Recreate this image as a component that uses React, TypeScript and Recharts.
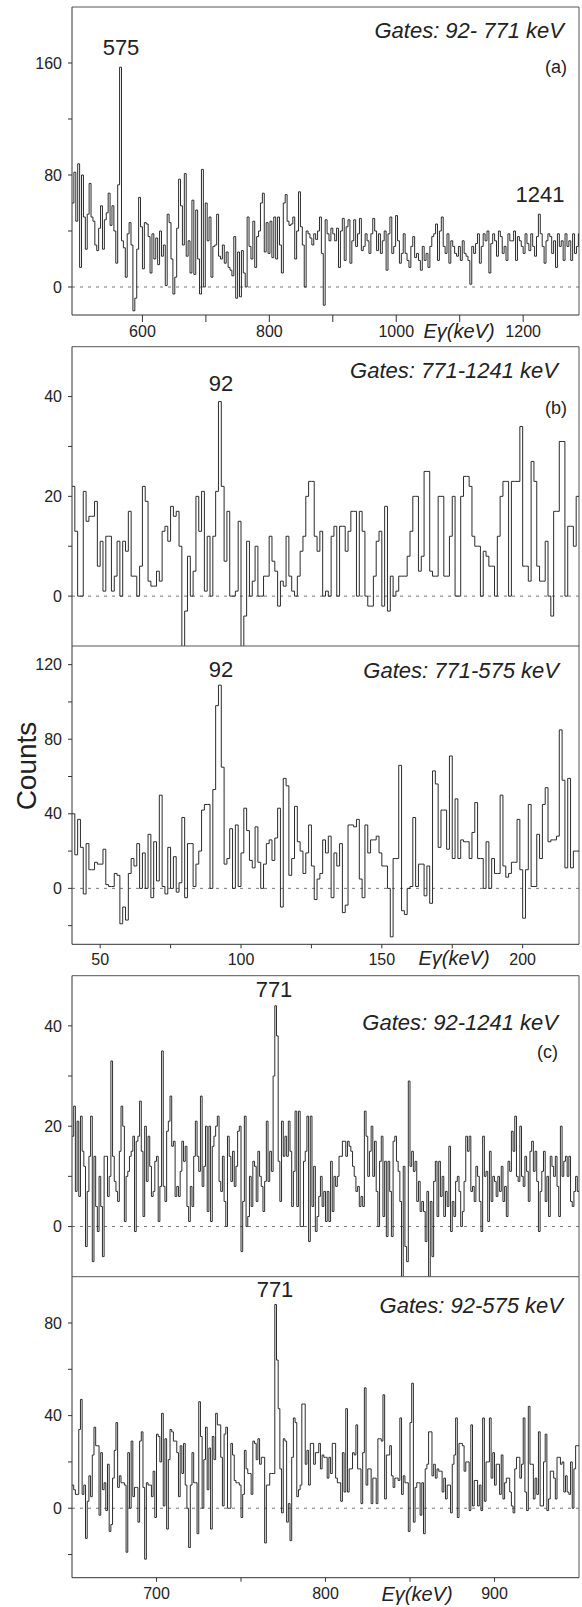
import React from "react";
import { LineChart, Line, XAxis, YAxis, ReferenceLine } from "recharts";

const FONT = "'Liberation Sans', Arial, Helvetica, sans-serif";
const INK = "#2b2b2b";
const AXIS = "#333";
const BORDER = "#555";
const TEXT = "#222";

// (a) Gates: 92-771 keV — 3 keV bins from 489 keV
const aStart = 489;
const aBin = 3;
const aCounts = [
  60, 82, 47, 88, 14, 80, 50, 27, 52, 74, 50, 47, 30, 26, 42, 58, 27, 48, 53, 67,
  44, 58, 40, 17, 73, 157, 33, 28, 7, 38, 46, 30, -17, -8, 27, 64, 43, 13, 46, 45,
  36, 10, 38, 20, 35, 16, 40, 22, 30, 1, 52, 46, 20, -5, 7, 42, 77, 58, 30, 81,
  22, 33, 10, 62, 9, 55, 20, -5, 84, 0, 60, 33, 50, 7, 29, 30, 52, 22, 20, 30,
  17, 25, 14, 12, 8, 36, -8, 25, -7, 26, 10, 0, 50, 29, 20, 47, 14, 36, 40, 60,
  67, 25, 46, 24, 47, 21, 50, 20, 50, 30, 10, 60, 66, 47, 44,
  45, 50, 20, 40, 68, 43, 30, 0, 40, 38, 35, 30, 38, 34, 40,
  50, 24, -13, 48, 38, 33, 42, 38, 33, 42, 14, 40, 49, 19, 43,
  48, 17, 33, 48, 29, 38, 49, 26, 29, 38, 33, 24, 38, 49, 40,
  26, 38, 24, 33, 40, 12, 38, 50, 24, 29, 51, 33, 17, 24, 38,
  24, 19, 14, 29, 36, 21, 24, 19, 12, 29, 19, 24, 14, 29, 36,
  38, 45, 19, 40, 50, 29, 24, 38, 17, 33, 29, 24, 22, 29, 19,
  33, 24, 22, 19, 2, 29, 24, 31, 38, 17, 29, 38, 33, 40, 10,
  31, 38, 33, 22, 40, 36, 24, 29, 19, 38, 33, 33, 40, 19, 36,
  33, 29, 24, 38, 31, 26, 38, 29, 22, 36, 52, 38, 29, 17, 33,
  38, 36, 24, 33, 14, 38, 29, 33, 19, 38, 29, 33, 19, 38, 24, 29, 38,
];

// (b) Gates: 771-1241 keV — 1 keV bins from 40 keV
const bStart = 40;
const bBin = 1;
const bCounts = [
  22, 13, 0, 0, 21, 15, 16, 16, 19, 6, 11, 1, 12, 12, 1, 4, 11, 0, 11, 9,
  17, 4, 4, 0, 6, 22, 19, 3, 2, 2, 5, 3, 13, 14, 11, 18, 16, 17, 10, -14,
  -3, 8, 0, 5, 20, 13, 21, 1, 12, 0, 12, 21, 39, 22, 7, 17, 0, 0, 1, 15,
  -14, -4, 11, 0, 3, 10, 0, 0, 4, 4, 12, 7, 5, -2, 3, 2, 12, 4, 1, 0,
  4, 9, 12, 20, 23, 23, 12, 9, 13, 0, 1, 0, 12, 14, 0, 14, 14, 9, 13, 17,
  17, 0, 17, 13, 0, -2, -2, 4, 11, 13, -2, 18, -3, 4, 0, 1, 4, 4, 4, 8,
  13, 20, 20, 5, 8, 25, 25, 5, 4, 4, 20, 20, 4, 4, 12, 20, 0, 0, 20, 24,
  24, 22, 12, 10, 10, 0, 9, 8, 6, 6, 0, 12, 20, 23, 23, 0, 23, 23, 23, 34,
  6, 6, 3, 27, 23, 6, 3, 3, 11, 0, -4, 17, 17, 31, 31, 0, 14, 14, 10, 20,
];

// (b) Gates: 771-575 keV — 1 keV bins from 40 keV
const b2Counts = [
  40, 18, 37, 22, -3, 24, 10, 10, 14, 13, 13, 21, 2, 1, 1, 8, 7, -19, -10, -17,
  8, 16, 12, 24, 0, 19, 0, 29, -5, 25, 4, 50, 1, -3, 22, 0, 17, -2, 3, 38,
  -5, 24, 24, 1, 13, 20, 42, 45, 45, 0, 53, 98, 109, 65, 13, 16, 32, 0, 34, 1,
  19, 43, 31, 15, 11, 33, 14, 0, 13, 24, 26, 15, 27, 43, -10, 59, 55, 7, 16, 44,
  25, 20, 8, 19, 34, 12, -6, 5, 8, 26, 19, 28, -5, 19, 12, 24, -13, -9, 34, 34,
  33, 37, 5, -5, 34, 19, 26, 26, 28, 19, 12, 12, 0, -26, 16, 16, 66, -12, -14, 0,
  1, 38, 1, 13, 13, -4, 12, -8, 63, 56, 22, 42, 42, 21, 71, 16, 48, 16, 26, 25,
  25, 16, 30, 46, 16, 16, 0, 25, 0, 16, 8, 8, 50, 12, 6, 8, 14, 14, 37, 10,
  -16, 10, 45, 1, 1, 29, 16, 45, 54, 25, 26, 26, 28, 85, 58, 11, 59, 11, 20, 20,
];

// (c) Gates: 92-1241 keV — 1 keV bins from 650 keV
const cStart = 650;
const cBin = 1;
const cCounts = [
  18, 24, 7, 21, 6, 22, 15, 12, -4, 7, 14, 22, -7, 14, 4, -1, 10, 4, -6, 14,
  14, 6, 10, 33, 14, 9, 7, 5, 15, 24, 20, 1, 10, 11, 14, 15, 18, -1, 17, 18,
  25, 15, 2, 20, 9, 18, 12, 6, 7, 13, 14, 1, 8, 35, 8, 5, 19, 21, 26, 16,
  17, 6, 8, 6, 11, 17, 13, 16, 4, 1, 8, 4, 14, 21, 14, 11, 26, 8, 12, 20,
  3, 20, 1, 16, 18, 20, 22, 9, 7, 14, 5, 0, 18, 14, 9, 15, 8,
  12, 19, 20, -5, 5, 22, 0, 2, 10, 4, 13, 12, 5, 15, 10, 8, 3, 9, 21, 9,
  15, 11, 30, 44, 38, 13, 5, 21, 14, 18, 14, 21, 15, 4, 11, 23, 4, 23,
  0, 0, 13, 15, 22, -3, 22, 4, 12, -1, 2, 6, 10, 4, 7, 1, 7, 1, 13, 3,
  10, 8, 10, 14, 14, 17, 17, 14, 17, 16, 15, 12, 10, 7, 8, 4, 6, 4, 23, 18,
  10, 15, 20, 10, 17, 7, 0, 13, 18, 2, 13, -2, 13, 7, -2, 17, 18, 13, 11, 5,
  -12, 12, -4, -7, 29, 12, 15, 11, 13, 5, 9, 3, 5, 3, -3, 7, -12, 5, -6, 9,
  13, 2, 13, 6, 10, 2, 7, 4, 16, -1, 5, 2, 9, 10, 7, 0, 3, 9,
  18, 15, 18, 7, 8, 5, 12, 10, 5, -1, 18, 10, 11, 1, 15, 5, 10, 9, 6,
  10, 7, 12, 5, 8, 2, 13, 11, 19, 15, 22, 10, 9, 20, 10, 8, 14, 11,
  5, 15, 17, 11, 15, 9, -1, 7, 11, 15, 5, 10, 2, 14, 12, 10, 14, 8, 2, 20,
  10, 13, 14, 10, 14, 5, 4, 7, 10, 7,
];

// (c) Gates: 92-575 keV — 1 keV bins from 650 keV
const c2Counts = [
  10, 8, 6, 6, 34, 47, 6, 10, -13, 3, 14, 5, 23, 35, 27, 27, -3, 24, 8, 11, -1, 19,
  -10, -7, 13, 25, 37, 9, 14, 11, 11, 10, -19, 24, 0, 29, 5, 9, 9, -6, 29, 33, 9, -22,
  11, 10, 10, 5, 16, -4, 32, 31, 20, 41, 1, 30, -9, 21, 34, 33, 29, 29, 24, 5, 27, 15,
  28, 10, 0, -17, 10, 24, 11, 11, -11, 46, 31, 0, 21, 35, 8, 26, -9, 31, 21, 41, 36, 36,
  22, 1, 32, 35, 0, 0, 28, 23, 12, 11, 11, 10, -4, 6, 25, 17, 15, 15, 6, 29, 28, 21,
  30, 19, 22, 22, -15, 10, 10, 15, 15, 15,
  88, 64, 43, 17, -2, 30, 29, -6, 2, -14, 22, 39, 37, 5, 8,
  10, 45, 45, 19, 25, 10, 28, 28, 19, 24, 24, 28, 17, 23, 22, 22, 13, 22, 15, 28, 28, 13, 11, 11,
  3, 24, 7, 43, 7, 17, 17, 24, 23, 36, 17, 17, 2, 24, 52, 10, 17, 17, 2, 13, 13, 2, 30, 30,
  29, 49, 4, 23, 23, 27, 14, 9, 13, 13, 12, 39, 6, 14, 11, 11, -10, 37, 54, -6, 9, 11, 11, -3,
  11, -11, 17, 19, 33, 33, 14, 19, 13, 17, 16, 16, 7, 13, 4, 10, 10, -2, 19, 23, 39, -4, 28, 28,
  27, 16, 20, 20, -1, 36, 1, 12, 12, 1, 10, -1, 39, 3, 20, 20, 39, 13, 24, 10, 19, 19, 6, 23,
  4, 11, 13, 13, 7, 1, -2, 17, 22, 22, 13, 19, 39, 7, -1, 44, 19, 19, 4, 13, 6, 33, 1, 1,
  20, 32, -1, 4, 16, 16, 13, 4, 22, 22, 19, 20, 7, 14, 7, 6, 20, 0, 17, 27, 27,
];

const aXTicks = [600, 700, 800, 900, 1000, 1100, 1200];
const aXMajor = [600, 800, 1000, 1200];
const bXTicks = [50, 75, 100, 125, 150, 175, 200];
const bXMajor = [50, 100, 150, 200];
const cXTicks = [700, 750, 800, 850, 900];
const cXMajor = [700, 800, 900];

const aYTicks = [0, 40, 80, 120, 160];
const aYMajor = [0, 80, 160];
const bYTicks = [0, 10, 20, 30, 40];
const bYMajor = [0, 20, 40];
const b2YTicks = [-20, 0, 20, 40, 60, 80, 100, 120];
const b2YMajor = [0, 40, 80, 120];
const cYTicks = [0, 10, 20, 30, 40];
const cYMajor = [0, 20, 40];
const c2YTicks = [-20, 0, 20, 40, 60, 80];
const c2YMajor = [0, 40, 80];

type Bin = { e: number; c: number };

function toBins(start: number, width: number, counts: number[]): Bin[] {
  const rows = counts.map((c, i) => ({ e: start + i * width, c }));
  rows.push({ e: start + counts.length * width, c: counts[counts.length - 1] });
  return rows;
}

const yTick = (major: number[]) => (p: any) => {
  const v = p.payload.value;
  if (!major.includes(v)) return <g />;
  return (
    <text x={p.x} y={p.y} dy="0.355em" textAnchor="end" fontSize={16} fill={TEXT} fontFamily={FONT}>
      {v}
    </text>
  );
};

const xTick = (major: number[]) => (p: any) => {
  const v = p.payload.value;
  if (!major.includes(v)) return <g />;
  return (
    <text x={p.x} y={p.y} dy="0.71em" textAnchor="middle" fontSize={16} fill={TEXT} fontFamily={FONT}>
      {v}
    </text>
  );
};

interface PanelProps {
  top: number;
  height: number;
  marginTop: number;
  data: Bin[];
  xDomain: [number, number];
  yDomain: [number, number];
  yTicks: number[];
  yMajor: number[];
  xTicks?: number[];
  xMajor?: number[];
  xAxisHeight?: number;
  xTickSize?: number;
  xTickMargin?: number;
}

function Panel(props: PanelProps) {
  const { top, height, marginTop, data, xDomain, yDomain, yTicks, yMajor, xTicks, xMajor } = props;
  const showX = !!xTicks;
  return (
    <div style={{ position: "absolute", left: 0, top, width: 582, height }}>
      <LineChart width={582} height={height} data={data} margin={{ top: marginTop, right: 3, bottom: 0, left: 12 }}>
        <XAxis
          type="number"
          dataKey="e"
          domain={xDomain}
          allowDataOverflow
          hide={!showX}
          ticks={xTicks}
          interval={0}
          height={props.xAxisHeight ?? 30}
          tickSize={props.xTickSize ?? 4}
          tickMargin={props.xTickMargin ?? 5}
          stroke={AXIS}
          tick={xTick(xMajor ?? [])}
        />
        <YAxis
          type="number"
          domain={yDomain}
          allowDataOverflow
          ticks={yTicks}
          interval={0}
          width={60}
          tickSize={4}
          tickMargin={6}
          stroke={AXIS}
          tick={yTick(yMajor)}
        />
        <ReferenceLine y={0} stroke="#777" strokeDasharray="3 5" />
        <ReferenceLine y={yDomain[1]} stroke={BORDER} ifOverflow="visible" />
        <ReferenceLine x={xDomain[1]} stroke={BORDER} ifOverflow="visible" />
        <Line
          type="stepAfter"
          dataKey="c"
          stroke={INK}
          strokeWidth={1}
          dot={false}
          activeDot={false}
          isAnimationActive={false}
        />
      </LineChart>
    </div>
  );
}

const notes = [
  { x: 564, y: 38, t: "Gates: 92- 771 keV", size: 22, italic: true, anchor: "end" },
  { x: 567, y: 73, t: "(a)", size: 18, italic: false, anchor: "end" },
  { x: 121, y: 55, t: "575", size: 22, italic: false, anchor: "middle" },
  { x: 540, y: 202, t: "1241", size: 22, italic: false, anchor: "middle" },
  { x: 558, y: 378, t: "Gates: 771-1241 keV", size: 22, italic: true, anchor: "end" },
  { x: 567, y: 414, t: "(b)", size: 18, italic: false, anchor: "end" },
  { x: 221, y: 391, t: "92", size: 22, italic: false, anchor: "middle" },
  { x: 559, y: 678, t: "Gates: 771-575 keV", size: 22, italic: true, anchor: "end" },
  { x: 221, y: 677, t: "92", size: 22, italic: false, anchor: "middle" },
  { x: 558, y: 1030, t: "Gates: 92-1241 keV", size: 22, italic: true, anchor: "end" },
  { x: 558, y: 1058, t: "(c)", size: 18, italic: false, anchor: "end" },
  { x: 274, y: 997, t: "771", size: 22, italic: false, anchor: "middle" },
  { x: 563, y: 1313, t: "Gates: 92-575 keV", size: 22, italic: true, anchor: "end" },
  { x: 275, y: 1297, t: "771", size: 22, italic: false, anchor: "middle" },
  { x: 459, y: 338, t: "Eγ(keV)", size: 20, italic: true, anchor: "middle" },
  { x: 454, y: 965, t: "Eγ(keV)", size: 20, italic: true, anchor: "middle" },
  { x: 417, y: 1601, t: "Eγ(keV)", size: 20, italic: true, anchor: "middle" },
];

export default function App() {
  return (
    <div style={{ position: "absolute", left: 0, top: 0, width: 582, height: 1607, background: "#fff", fontFamily: FONT }}>
      <Panel
        top={0} height={350} marginTop={7}
        data={toBins(aStart, aBin, aCounts)}
        xDomain={[489, 1288]} yDomain={[-20, 200]}
        yTicks={aYTicks} yMajor={aYMajor}
        xTicks={aXTicks} xMajor={aXMajor}
        xAxisHeight={35} xTickSize={7} xTickMargin={4}
      />
      <Panel
        top={340} height={306} marginTop={6.7}
        data={toBins(bStart, bBin, bCounts)}
        xDomain={[40, 220]} yDomain={[-10, 50]}
        yTicks={bYTicks} yMajor={bYMajor}
      />
      <Panel
        top={640} height={340} marginTop={6}
        data={toBins(bStart, bBin, b2Counts)}
        xDomain={[40, 220]} yDomain={[-30, 130]}
        yTicks={b2YTicks} yMajor={b2YMajor}
        xTicks={bXTicks} xMajor={bXMajor}
        xAxisHeight={35.7} xTickSize={4} xTickMargin={5}
      />
      <Panel
        top={970} height={306.7} marginTop={5.7}
        data={toBins(cStart, cBin, cCounts)}
        xDomain={[650, 950]} yDomain={[-10, 50]}
        yTicks={cYTicks} yMajor={cYMajor}
      />
      <Panel
        top={1270} height={337} marginTop={6.7}
        data={toBins(cStart, cBin, c2Counts)}
        xDomain={[650, 950]} yDomain={[-30, 100]}
        yTicks={c2YTicks} yMajor={c2YMajor}
        xTicks={cXTicks} xMajor={cXMajor}
        xAxisHeight={29.3} xTickSize={4} xTickMargin={5.6}
      />
      <svg width={582} height={1607} style={{ position: "absolute", left: 0, top: 0, pointerEvents: "none" }}>
        {notes.map((n, i) => (
          <text
            key={i}
            x={n.x}
            y={n.y}
            fontSize={n.size}
            fontStyle={n.italic ? "italic" : "normal"}
            textAnchor={n.anchor as any}
            fill={TEXT}
            fontFamily={FONT}
          >
            {n.t}
          </text>
        ))}
        <text transform="translate(36, 766) rotate(-90)" textAnchor="middle" fontSize={28} fill={TEXT} fontFamily={FONT}>
          Counts
        </text>
      </svg>
    </div>
  );
}
